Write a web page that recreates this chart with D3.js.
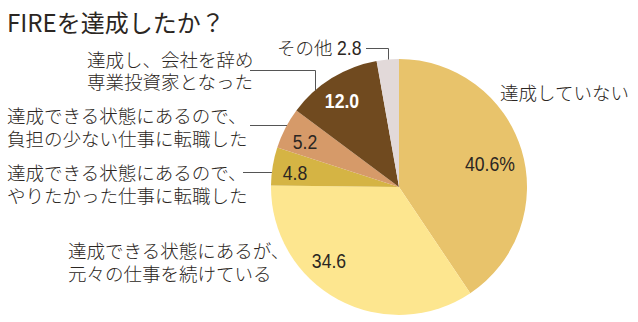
<!DOCTYPE html>
<html><head><meta charset="utf-8">
<script src="https://cdn.jsdelivr.net/npm/d3@7"></script>
<style>
html,body{margin:0;padding:0;background:#fff;}
svg{display:block;}
</style></head>
<body>
<script>
const title = "FIREを達成したか？";
const categories = [
  "達成していない",
  "達成できる状態にあるが、\n元々の仕事を続けている",
  "達成できる状態にあるので、\nやりたかった仕事に転職した",
  "達成できる状態にあるので、\n負担の少ない仕事に転職した",
  "達成し、会社を辞め\n専業投資家となった",
  "その他"
];
const values = [40.6, 34.6, 4.8, 5.2, 12.0, 2.8];
const valueLabels = ["40.6%", "34.6", "4.8", "5.2", "12.0", "2.8"];
const colors = ["#e8c36b", "#fde68f", "#d5b444", "#d69a69", "#704a1f", "#e2d9d9"];

const W = 638, H = 322;
const cx = 399, cy = 187, R = 128;
const jpFont = "'Noto Sans CJK JP', 'Noto Sans', sans-serif";
const numFont = "'Liberation Sans Narrow', 'Arial Narrow', 'Liberation Sans', sans-serif";
const txt = "#2b2622";

const svg = d3.select("body").append("svg").attr("width", W).attr("height", H);

svg.append("text").attr("x", 7).attr("y", 21).attr("dominant-baseline", "central")
  .attr("font-family", jpFont).attr("font-size", 24).attr("fill", txt).text(title);

const pie = d3.pie().sort(null).value(d => d)(values);
const arc = d3.arc().innerRadius(0).outerRadius(R);
const g = svg.append("g").attr("transform", `translate(${cx},${cy})`);
g.selectAll("path").data(pie).join("path")
  .attr("d", arc).attr("fill", (d, i) => colors[i]);

// helpers for circle edge points
const leftX = y => cx - Math.sqrt(R * R - (y - cy) * (y - cy));
const topY = x => cy - Math.sqrt(R * R - (x - cx) * (x - cx));

// layout of labels (annotation positions)
const layout = [
  {cat: {x: 500, y: 92, lh: 22}, val: {x: 490, y: 163, anchor: "middle"}},
  {cat: {x: 68, y: 250, lh: 23}, val: {x: 329, y: 260, anchor: "middle"}},
  {cat: {x: 7, y: 172, lh: 23}, val: {x: 295, y: 172, anchor: "middle"}, leader: {type: "h", x0: 243, y: 172}},
  {cat: {x: 7, y: 115, lh: 23}, val: {x: 305, y: 141, anchor: "middle"}, leader: {type: "h", x0: 250, y: 125}},
  {cat: {x: 87, y: 59, lh: 22}, val: {x: 342, y: 100, anchor: "middle", bold: true, color: "#fff"}, leader: {type: "hv", x0: 250, y: 70, x1: 315}},
  {cat: {x: 277, y: 47, lh: 0}, val: {x: 337, y: 47, anchor: "start"}, leader: {type: "hv", x0: 366, y: 48, x1: 388}}
];

const leaderG = svg.append("g").attr("stroke", "#555").attr("stroke-width", 1).attr("fill", "none");
layout.forEach((L, i) => {
  const lines = categories[i].split("\n");
  lines.forEach((ln, k) => {
    svg.append("text").attr("font-family", jpFont).attr("font-size", 18.5)
      .attr("font-weight", 300)
      .attr("fill", txt).attr("dominant-baseline", "central")
      .attr("x", L.cat.x).attr("y", L.cat.y + k * L.cat.lh).text(ln);
  });
  svg.append("text")
    .attr("transform", `translate(${L.val.x},${L.val.y}) scale(0.84,1)`)
    .attr("text-anchor", L.val.anchor).attr("dominant-baseline", "central")
    .attr("font-family", numFont).attr("font-size", 21)
    .attr("font-weight", L.val.bold ? "bold" : "normal")
    .attr("fill", L.val.color || txt).text(valueLabels[i]);
  if (L.leader) {
    const ld = L.leader;
    if (ld.type === "h") {
      leaderG.append("line").attr("x1", ld.x0).attr("x2", leftX(ld.y)).attr("y1", ld.y + 0.5).attr("y2", ld.y + 0.5);
    } else {
      leaderG.append("polyline").attr("points",
        `${ld.x0},${ld.y + 0.5} ${ld.x1 + 0.5},${ld.y + 0.5} ${ld.x1 + 0.5},${topY(ld.x1)}`);
    }
  }
});
</script>
</body></html>
